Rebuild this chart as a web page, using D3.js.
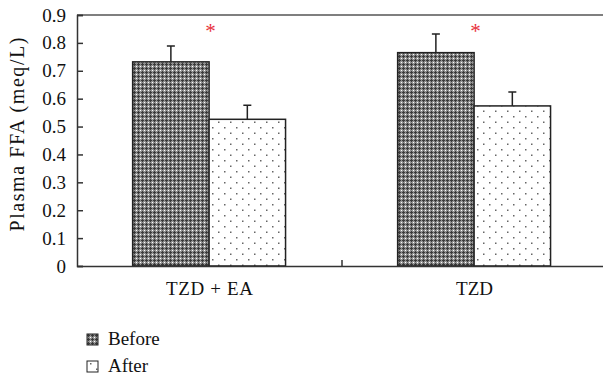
<!DOCTYPE html>
<html>
<head>
<meta charset="utf-8">
<script src="https://cdn.jsdelivr.net/npm/d3@7"></script>
<style>
  body { margin: 0; background: #fff; }
  svg text { font-family: "Liberation Serif", "DejaVu Serif", serif; }
</style>
</head>
<body>
<div id="chart"></div>
<script>
// data
const groups = ["TZD + EA", "TZD"];
const series = ["Before", "After"];
const before = [0.732, 0.765];
const after = [0.526, 0.574];
const beforeErr = [0.057, 0.067];
const afterErr = [0.05, 0.05];
const yTicks = [0, 0.1, 0.2, 0.3, 0.4, 0.5, 0.6, 0.7, 0.8, 0.9];
const signif = ["*", "*"];

const SERIF = '"Liberation Serif", "DejaVu Serif", serif';
const W = 603, H = 377;
const margin = {top: 15, right: -4, bottom: 111, left: 77};
const width = W - margin.left - margin.right,
      height = H - margin.top - margin.bottom;

const svg = d3.select("#chart").append("svg")
    .attr("width", W)
    .attr("height", H)
    .attr("font-family", SERIF);

// fill patterns
const defs = svg.append("defs");
const pDark = defs.append("pattern")
    .attr("id", "pat-before")
    .attr("patternUnits", "userSpaceOnUse")
    .attr("width", 4).attr("height", 4);
pDark.append("rect").attr("width", 4).attr("height", 4).attr("fill", "#909090");
[[1,0],[0,1],[1,1],[2,1],[1,2]].forEach(p => {
  pDark.append("rect").attr("x", p[0]).attr("y", p[1]).attr("width", 1).attr("height", 1).attr("fill", "#3a3a3a");
});
pDark.append("rect").attr("x", 3).attr("y", 3).attr("width", 1).attr("height", 1).attr("fill", "#fff");

const pDots = defs.append("pattern")
    .attr("id", "pat-after")
    .attr("patternUnits", "userSpaceOnUse")
    .attr("width", 12).attr("height", 11);
pDots.append("rect").attr("width", 12).attr("height", 11).attr("fill", "#fff");
pDots.append("rect").attr("x", 3).attr("y", 2).attr("width", 1.5).attr("height", 1.5).attr("fill", "#666");
pDots.append("rect").attr("x", 9).attr("y", 7.5).attr("width", 1.5).attr("height", 1.5).attr("fill", "#666");

const fills = {"Before": "url(#pat-before)", "After": "url(#pat-after)"};

const g = svg.append("g")
    .attr("transform", "translate(" + margin.left + "," + margin.top + ")");

const x0 = d3.scaleBand()
    .domain(groups)
    .range([0, width])
    .padding(0);

const x1 = d3.scaleBand()
    .domain(series)
    .range([x0.bandwidth() * 0.21, x0.bandwidth() * 0.787])
    .padding(0);

const y = d3.scaleLinear()
    .domain([0, 0.9])
    .range([height, 0]);

const rows = groups.map((grp, i) => ({
  group: grp,
  sig: signif[i],
  values: [
    {key: "Before", value: before[i], err: beforeErr[i]},
    {key: "After", value: after[i], err: afterErr[i]}
  ]
}));

// top frame line
g.append("line")
    .attr("x1", 0).attr("x2", width)
    .attr("y1", 0).attr("y2", 0)
    .attr("stroke", "#555")
    .attr("stroke-width", 1.5);

const grp = g.selectAll(".grp")
    .data(rows)
    .enter().append("g")
    .attr("class", "grp")
    .attr("transform", d => "translate(" + x0(d.group) + ",0)");

// error bars (upper only)
grp.selectAll(".err")
    .data(d => d.values)
    .enter().append("path")
    .attr("class", "err")
    .attr("d", d => {
      const cx = x1(d.key) + x1.bandwidth() / 2;
      const yt = y(d.value + d.err);
      return "M" + cx + "," + y(d.value) + "V" + yt + "M" + (cx - 4) + "," + yt + "H" + (cx + 4);
    })
    .attr("fill", "none")
    .attr("stroke", "#222")
    .attr("stroke-width", 1.5);

grp.selectAll(".bar")
    .data(d => d.values)
    .enter().append("rect")
    .attr("class", "bar")
    .attr("x", d => x1(d.key))
    .attr("y", d => y(d.value))
    .attr("width", x1.bandwidth())
    .attr("height", d => height - y(d.value))
    .attr("fill", d => fills[d.key])
    .attr("stroke", "#222")
    .attr("stroke-width", 1.5);

grp.append("text")
    .attr("x", x0.bandwidth() / 2 + 1)
    .attr("y", 23)
    .attr("text-anchor", "middle")
    .attr("fill", "#e8323c")
    .attr("font-size", "21px")
    .text(d => d.sig);

// axes
const yAxis = g.append("g")
    .attr("class", "y axis")
    .call(d3.axisLeft(y).tickValues(yTicks).tickSize(-6).tickPadding(11)
      .tickFormat(d => d === 0 ? "0" : d3.format(".1f")(d)))
    .attr("font-family", SERIF);
yAxis.selectAll("text").attr("font-size", "19px").attr("fill", "#111");

const xAxis = g.append("g")
    .attr("class", "x axis")
    .attr("transform", "translate(0," + height + ")")
    .call(d3.axisBottom(x0).tickSize(0).tickPadding(16))
    .attr("font-family", SERIF);
xAxis.selectAll("text").attr("font-size", "19px").attr("fill", "#111")
    .attr("textLength", 87).attr("lengthAdjust", "spacing")
    .filter(d => d === "TZD").attr("textLength", null);

// category divider tick on x axis
xAxis.selectAll(".divider")
    .data(groups.slice(1))
    .enter().append("line")
    .attr("class", "divider")
    .attr("x1", d => x0(d)).attr("x2", d => x0(d))
    .attr("y1", 0).attr("y2", -6)
    .attr("stroke", "#333")
    .attr("stroke-width", 1.2);

svg.selectAll(".axis path, .axis line")
    .attr("stroke", "#333")
    .attr("stroke-width", 1.5);

g.append("text")
    .attr("transform", "rotate(-90)")
    .attr("x", -119.5)
    .attr("y", -53)
    .attr("text-anchor", "middle")
    .attr("font-size", "20px")
    .attr("textLength", 194)
    .attr("lengthAdjust", "spacing")
    .attr("fill", "#111")
    .text("Plasma FFA (meq/L)");

// legend
const legend = svg.selectAll(".legend")
    .data(series)
    .enter().append("g")
    .attr("class", "legend")
    .attr("transform", (d, i) => "translate(87," + (334 + i * 27) + ")");

legend.append("rect")
    .attr("width", 11).attr("height", 11)
    .attr("fill", d => fills[d])
    .attr("stroke", "#222")
    .attr("stroke-width", 1);

legend.append("text")
    .attr("x", 21)
    .attr("y", 11)
    .attr("font-size", "19px")
    .attr("fill", "#111")
    .text(d => d);
</script>
</body>
</html>
